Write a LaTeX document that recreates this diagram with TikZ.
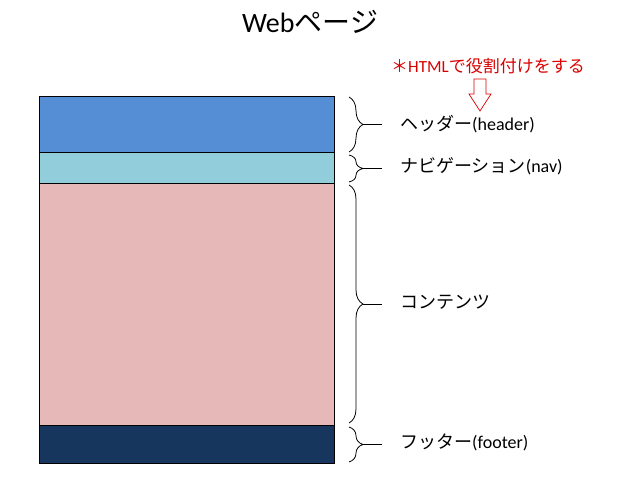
\documentclass[tikz,border=0pt]{standalone}
\usepackage{fontspec}
\setmainfont{Carlito}
\newfontfamily\jp{Noto Sans CJK JP}
\usetikzlibrary{decorations.pathreplacing}
\begin{document}
\begin{tikzpicture}[x=1pt,y=-1pt,
  blk/.style={draw=black,line width=0.6pt},
  br/.style={decorate,decoration={brace,amplitude=14pt},line width=0.8pt},
  lbl/.style={anchor=west,font=\fontsize{18}{20}\selectfont,inner sep=0pt}]
\useasboundingbox (0,0) rectangle (638,479);
\node (title) at (310,22) {\fontsize{28}{32}\selectfont Web\jp ページ};
\node[text=red!85!black] (note) at (488,66) {\fontsize{17}{19}\selectfont {\jp ＊}HTML\jp で役割付けをする};
\draw[blk,fill={rgb,255:red,85;green,142;blue,213}] (39,96) rectangle (334,152) coordinate (hb);
\draw[blk,fill={rgb,255:red,146;green,205;blue,220}] (39,152) rectangle (334,183);
\draw[blk,fill={rgb,255:red,230;green,184;blue,183}] (39,183) rectangle (334,425);
\draw[blk,fill={rgb,255:red,23;green,54;blue,93}] (39,425) rectangle (334,463);
\draw[red!85!black,line width=0.7pt,fill=white] (474,79) -- (486,79) -- (486,94) -- (491,94) -- (480,111) -- (469,94) -- (474,94) -- cycle;
\draw[br] (349,97) -- (349,152);
\draw[br] (349,155) -- (349,182);
\draw[br] (349,185) -- (349,423);
\draw[br] (349,427) -- (349,462);
\draw[line width=0.8pt] (363,124.5)--(382,124.5) (363,168.5)--(382,168.5) (363,304)--(382,304) (363,444.5)--(382,444.5);
\node[lbl] (h) at (400,124) {\jp ヘッダー\rmfamily(header)};
\node[lbl] (n) at (400,166) {\jp ナビゲーション\rmfamily(nav)};
\node[lbl] (c) at (400,302) {\jp コンテンツ};
\node[lbl] (f) at (400,442) {\jp フッター\rmfamily(footer)};
\end{tikzpicture}
\end{document}
